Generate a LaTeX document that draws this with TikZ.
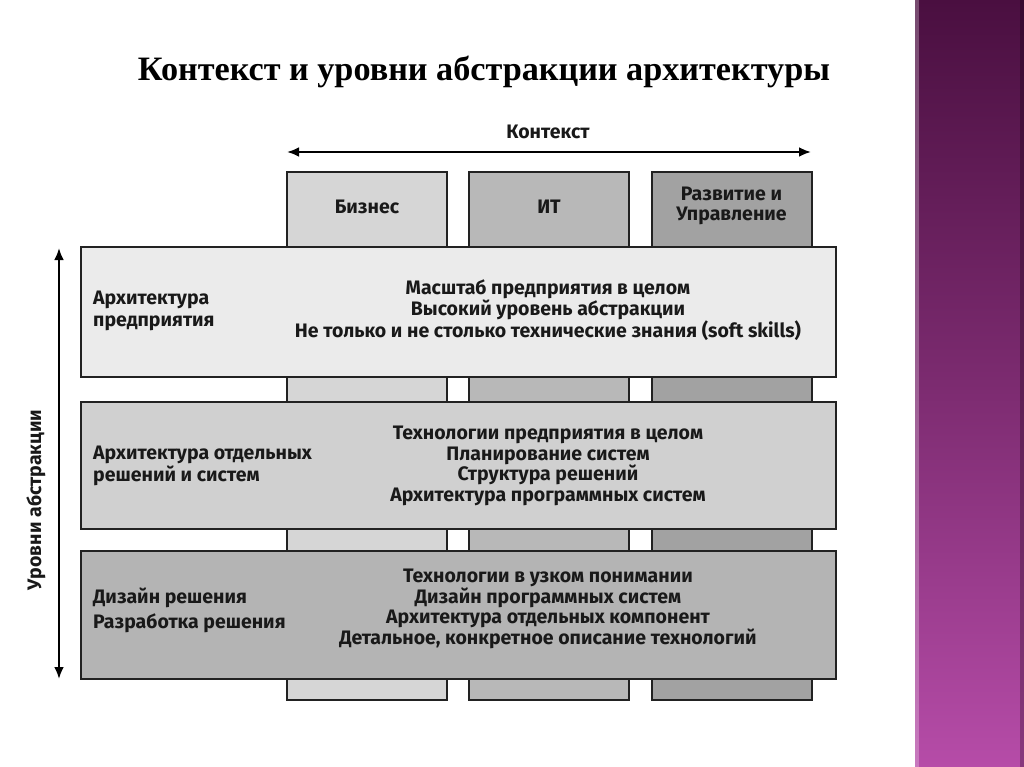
\documentclass[tikz,border=0pt]{standalone}
\usepackage{fontspec}
\setmainfont{Fira Sans}
\newfontfamily\titlefont{Liberation Serif}
\usetikzlibrary{arrows.meta}
\definecolor{rowA}{HTML}{EBEBEB}
\definecolor{rowB}{HTML}{D0D0D0}
\definecolor{rowC}{HTML}{B4B4B4}
\definecolor{colA}{HTML}{D6D6D6}
\definecolor{colB}{HTML}{B8B8B8}
\definecolor{colC}{HTML}{A2A2A2}
\definecolor{edge}{HTML}{222222}
\definecolor{purpTop}{HTML}{4A0F40}
\definecolor{purpMid}{HTML}{7C2B70}
\definecolor{purpBot}{HTML}{B64CA8}
\begin{document}
\begin{tikzpicture}[x=1pt,y=-1pt,
  colbox/.style={draw=edge,line width=2pt,minimum width=160pt,minimum height=528pt,inner sep=0pt},
  rowbox/.style={draw=edge,line width=2pt,minimum width=755pt,inner sep=0pt},
  txt/.style={font=\bfseries\fontsize{19.5}{20.8}\selectfont,align=center,inner sep=0pt,text=black!90},
  lbl/.style={font=\bfseries\fontsize{19.5}{22}\selectfont,align=left,anchor=west,inner sep=0pt,text=black!90},
  arr/.style={line width=2.5pt,{Latex[length=12pt,width=10pt]}-{Latex[length=12pt,width=10pt]}}
]
\useasboundingbox (0,0) rectangle (1024,767);
\fill[white] (0,0) rectangle (1024,767);
\shade[top color=purpTop,bottom color=purpBot,middle color=purpMid] (915,0) rectangle (1024,767);
\fill[white,opacity=0.25] (915,0) rectangle (919,767);
\fill[black,opacity=0.25] (1020,0) rectangle (1024,767);

\node[font=\titlefont\bfseries\fontsize{34.2}{40}\selectfont,inner sep=0pt] (title) at (484,72) {Контекст и уровни абстракции архитектуры};

% columns
\node[colbox,fill=colA] (cb) at (367,436) {};
\node[colbox,fill=colB] (ci) at (549,436) {};
\node[colbox,fill=colC] (cd) at (731.5,436) {};
\node[txt] (hb) at (367,207) {Бизнес};
\node[txt] (hi) at (549,207) {ИТ};
\node[txt] (hd) at (731.5,206) {Развитие и\\Управление};

% context arrow
\coordinate (cl) at (287,152);
\coordinate (cr) at (811,152);
\draw[arr] (cl) -- (cr);
\node[txt] (ctx) at (548,132) {Контекст};

% rows
\node[rowbox,fill=rowA,minimum height=130pt] (r1) at (458.5,312) {};
\node[rowbox,fill=rowB,minimum height=127pt] (r2) at (458.5,465.5) {};
\node[rowbox,fill=rowC,minimum height=128pt] (r3) at (458.5,615) {};

\node[lbl] (l1) at (93,311) {Архитектура\\предприятия};
\node[lbl] (l2) at (93,466) {Архитектура отдельных\\решений и систем};
\node[lbl,font=\bfseries\fontsize{19.5}{25}\selectfont] (l3) at (93,610) {Дизайн решения\\Разработка решения};

\node[txt] (t1) at (548,310) {Масштаб предприятия в целом\\Высокий уровень абстракции\\Не только и не столько технические знания (soft skills)};
\node[txt] (t2) at (548,466) {Технологии предприятия в целом\\Планирование систем\\Структура решений\\Архитектура программных систем};
\node[txt] (t3) at (548,609) {Технологии в узком понимании\\Дизайн программных систем\\Архитектура отдельных компонент\\Детальное, конкретное описание технологий};

% abstraction arrow
\coordinate (at) at (59,248);
\coordinate (ab) at (59,679);
\draw[arr] (at) -- (ab);
\node[txt,rotate=90] (abl) at (36,500) {Уровни абстракции};
\end{tikzpicture}
\end{document}
